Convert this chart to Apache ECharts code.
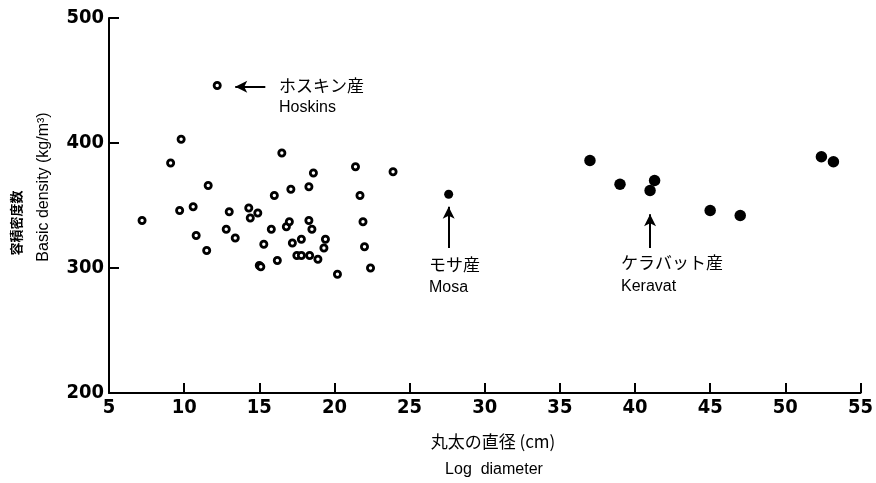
<!DOCTYPE html>
<html><head><meta charset="utf-8">
<script src="https://cdn.jsdelivr.net/npm/echarts@6/dist/echarts.min.js"></script>
<style>html,body{margin:0;padding:0;background:#fff}#c{width:876px;height:483px}</style>
</head><body><div id="c"></div>
<script>
// Open circles: other provenances (diameter cm, basic density kg/m3)
const openX = [7.2, 9.1, 9.8, 9.7, 10.6, 10.8, 11.5, 11.6, 12.8, 13.0, 13.4, 14.3, 14.9, 14.4, 15.0, 15.1, 15.3, 15.8, 16.2, 16.0, 16.5, 16.8, 17.0, 17.1, 17.2, 17.5, 17.8, 17.8, 18.3, 18.3, 18.5, 18.35, 18.6, 18.9, 19.3, 19.4, 20.2, 21.4, 21.7, 21.9, 22.0, 22.4, 23.9];
const openY = [338, 384, 403, 346, 349, 326, 314, 366, 331, 345, 324, 348, 344, 340, 302, 301, 319, 331, 306, 358, 392, 333, 337, 363, 320, 310, 310, 323, 365, 338, 331, 310, 376, 307, 316, 323, 295, 381, 358, 337, 317, 300, 377];
// Hoskins
const hoskinsX = [12.2];
const hoskinsY = [446];
// Mosa
const mosaX = [27.6];
const mosaY = [359];
// Keravat
const keravatX = [37.0, 39.0, 41.3, 41.0, 45.0, 47.0, 52.4, 53.2];
const keravatY = [386, 367, 370, 362, 346, 342, 389, 385];
// Axis ticks
const xTicks = [5, 10, 15, 20, 25, 30, 35, 40, 45, 50, 55];
const yTicks = [200, 300, 400, 500];

const zip = (a, b) => a.map((v, i) => [v, b[i]]);
const tickFont = '"DejaVu Sans Condensed", sans-serif';
const txtFont = '"Liberation Sans", Arial, sans-serif';
const jpFont = '"Noto Sans CJK JP", sans-serif';

const chart = echarts.init(document.getElementById('c'), null, {renderer: 'canvas'});
const openStyle = {color: '#fff', borderColor: '#000', borderWidth: 2.8, opacity: 1};
const fillStyle = {color: '#000', opacity: 1};
chart.setOption({
  animation: false,
  backgroundColor: '#fff',
  grid: {left: 109, right: 14, top: 18, bottom: 90},
  xAxis: {
    type: 'value', min: xTicks[0], max: xTicks[xTicks.length - 1], interval: 5,
    axisLine: {show: true, lineStyle: {color: '#000', width: 2}},
    axisTick: {show: true, inside: true, length: 10, lineStyle: {color: '#000', width: 2}},
    splitLine: {show: false},
    axisLabel: {color: '#000', fontFamily: tickFont, fontWeight: 'bold', fontSize: 20, margin: 5}
  },
  yAxis: {
    type: 'value', min: yTicks[0], max: yTicks[yTicks.length - 1], interval: 100,
    axisLine: {show: true, lineStyle: {color: '#000', width: 2}},
    axisTick: {show: true, inside: true, length: 10, lineStyle: {color: '#000', width: 2}},
    splitLine: {show: false},
    axisLabel: {color: '#000', fontFamily: tickFont, fontWeight: 'bold', fontSize: 20, margin: 5}
  },
  series: [
    {
      type: 'scatter', data: zip(openX, openY), symbol: 'circle', symbolSize: 6.2,
      itemStyle: openStyle, silent: true,
      markLine: {
        silent: true, symbol: ['none', 'arrow'], symbolSize: [9, 12],
        lineStyle: {color: '#000', width: 2, type: 'solid', opacity: 1},
        itemStyle: {color: '#000', opacity: 1},
        label: {show: false},
        data: [
          [{coord: [15.4, 445]}, {coord: [13.4, 445]}],
          [{coord: [27.6, 316]}, {coord: [27.6, 349]}],
          [{coord: [41.0, 316]}, {coord: [41.0, 343]}]
        ]
      }
    },
    {type: 'scatter', data: zip(hoskinsX, hoskinsY), symbol: 'circle', symbolSize: 6.2, itemStyle: openStyle, silent: true},
    {type: 'scatter', data: zip(mosaX, mosaY), symbol: 'circle', symbolSize: 9, itemStyle: fillStyle, silent: true},
    {type: 'scatter', data: zip(keravatX, keravatY), symbol: 'circle', symbolSize: 11.5, itemStyle: fillStyle, silent: true}
  ],
  graphic: [
    {type: 'text', left: 279, top: 77, style: {text: 'ホスキン産', font: '17px ' + jpFont, fill: '#000'}},
    {type: 'text', left: 279, top: 100, style: {text: 'Hoskins', font: '16px ' + txtFont, fill: '#000'}},
    {type: 'text', left: 429, top: 256, style: {text: 'モサ産', font: '17px ' + jpFont, fill: '#000'}},
    {type: 'text', left: 429, top: 280, style: {text: 'Mosa', font: '16px ' + txtFont, fill: '#000'}},
    {type: 'text', left: 621, top: 254, style: {text: 'ケラバット産', font: '17px ' + jpFont, fill: '#000'}},
    {type: 'text', left: 621, top: 279, style: {text: 'Keravat', font: '16px ' + txtFont, fill: '#000'}},
    {type: 'text', x: 493, y: 442, style: {text: '丸太の直径 (cm)', font: '17px ' + jpFont, fill: '#000', align: 'center', verticalAlign: 'middle'}},
    {type: 'text', x: 494, y: 470, style: {text: 'Log  diameter', font: '16px ' + txtFont, fill: '#000', align: 'center', verticalAlign: 'middle'}},
    {type: 'text', x: 16, y: 223, rotation: Math.PI / 2, style: {text: '容積密度数', font: 'bold 13px ' + jpFont, fill: '#000', align: 'center', verticalAlign: 'middle'}},
    {type: 'text', x: 44, y: 187, rotation: Math.PI / 2, style: {text: 'Basic density (kg/m³)', font: '16px ' + txtFont, fill: '#000', align: 'center', verticalAlign: 'middle'}}
  ]
});
</script></body></html>
